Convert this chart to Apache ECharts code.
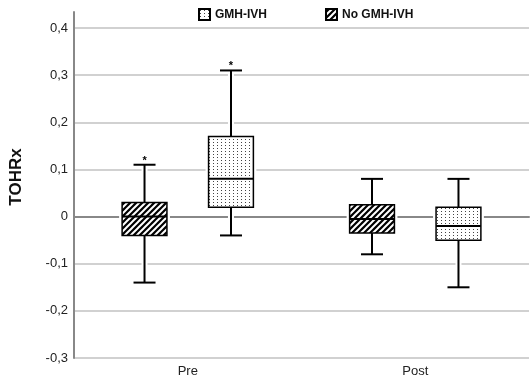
<!DOCTYPE html>
<html>
<head>
<meta charset="utf-8">
<script src="https://cdn.jsdelivr.net/npm/echarts@6/dist/echarts.min.js"></script>
<style>
  html, body { margin: 0; padding: 0; background: #fff; }
  #chart { width: 532px; height: 378px; }
</style>
</head>
<body>
<div id="chart"></div>
<script>
const categories = ['Pre', 'Post'];
// boxes: [min, Q1, median, Q3, max] per category
const gmhIvh = [[-0.04, 0.02, 0.08, 0.17, 0.31], [-0.15, -0.05, -0.02, 0.02, 0.08]];
const noGmhIvh = [[-0.14, -0.04, 0.0, 0.03, 0.11], [-0.08, -0.035, -0.005, 0.025, 0.08]];
// outliers: [category index, value]
const gmhIvhOutliers = [[0, 0.323]];
const noGmhIvhOutliers = [[0, 0.123]];

const fontFamily = 'Liberation Sans, Arial, sans-serif';

// fill patterns
function dotCanvas() {
  const c = document.createElement('canvas');
  c.width = 4; c.height = 3;
  const ctx = c.getContext('2d');
  ctx.fillStyle = '#fff';
  ctx.fillRect(0, 0, 4, 3);
  ctx.fillStyle = '#444';
  ctx.fillRect(1, 1, 1, 1);
  return c;
}
function hatchCanvas() {
  const s = 6;
  const c = document.createElement('canvas');
  c.width = s; c.height = s;
  const ctx = c.getContext('2d');
  ctx.fillStyle = '#000';
  ctx.fillRect(0, 0, s, s);
  ctx.strokeStyle = '#fff';
  ctx.lineWidth = 2;
  ctx.beginPath();
  ctx.moveTo(0, s); ctx.lineTo(s, 0);
  ctx.moveTo(-2, 2); ctx.lineTo(2, -2);
  ctx.moveTo(s - 2, s + 2); ctx.lineTo(s + 2, s - 2);
  ctx.stroke();
  return c;
}
const dotFill = { image: dotCanvas(), repeat: 'repeat' };
const hatchFill = { image: hatchCanvas(), repeat: 'repeat' };

function boxRenderer(side, fill) {
  return function (params, api) {
    const cat = api.value(0);
    const bw = api.size([1, 0])[0];
    const cx = api.coord([cat, 0])[0] + side * bw * 0.19;
    const half = bw * 0.197 / 2;
    const cap = 11;
    const y = [1, 2, 3, 4, 5].map(function (d) { return api.coord([cat, api.value(d)])[1]; });
    const halo = { stroke: '#fff', lineWidth: 6 };
    const ink = { stroke: '#000', lineWidth: 2 };
    function line(x1, y1, x2, y2, st) {
      return { type: 'line', shape: { x1: x1, y1: y1, x2: x2, y2: y2 }, style: st };
    }
    return {
      type: 'group',
      children: [
        line(cx, y[4], cx, y[0], halo),
        line(cx - cap, y[4], cx + cap, y[4], halo),
        line(cx - cap, y[0], cx + cap, y[0], halo),
        { type: 'rect', shape: { x: cx - half, y: y[3], width: half * 2, height: y[1] - y[3] },
          style: { fill: 'none', stroke: '#fff', lineWidth: 6 } },
        line(cx, y[4], cx, y[3], ink),
        line(cx, y[1], cx, y[0], ink),
        line(cx - cap, y[4], cx + cap, y[4], ink),
        line(cx - cap, y[0], cx + cap, y[0], ink),
        { type: 'rect', shape: { x: cx - half, y: y[3], width: half * 2, height: y[1] - y[3] },
          style: { fill: fill, stroke: '#000', lineWidth: 1.5 } },
        line(cx - half, y[2], cx + half, y[2], ink)
      ]
    };
  };
}

function outlierRenderer(side) {
  return function (params, api) {
    const cat = api.value(0);
    const bw = api.size([1, 0])[0];
    const p = api.coord([cat, api.value(1)]);
    return {
      type: 'text',
      x: p[0] + side * bw * 0.19,
      y: p[1] + 2,
      style: { text: '*', fill: '#000', font: 'bold 11px ' + fontFamily, align: 'center', verticalAlign: 'middle' }
    };
  };
}

const chart = echarts.init(document.getElementById('chart'));
chart.setOption({
  animation: false,
  backgroundColor: '#fff',
  legend: {
    data: ['GMH-IVH', 'No GMH-IVH'],
    left: 193,
    top: 3,
    icon: 'rect',
    itemWidth: 11,
    itemHeight: 11,
    itemGap: 58,
    textStyle: { fontFamily: fontFamily, fontSize: 12, fontWeight: 'bold', color: '#111' }
  },
  grid: { left: 72, right: 3, top: 12, bottom: 19 },
  xAxis: {
    type: 'category',
    data: categories,
    axisTick: { show: false },
    axisLine: { lineStyle: { color: '#888', width: 2 } },
    axisLabel: { fontFamily: fontFamily, fontSize: 13, color: '#222', margin: 7 }
  },
  yAxis: {
    type: 'value',
    min: -0.3,
    max: 0.434,
    interval: 0.1,
    name: 'TOHRx',
    nameLocation: 'middle',
    nameGap: 49,
    nameTextStyle: { fontFamily: fontFamily, fontSize: 17, fontWeight: 'bold', color: '#111', padding: [0, 0, 0, 16] },
    axisLine: { show: true, lineStyle: { color: '#888', width: 2 } },
    axisTick: { show: false },
    splitLine: { show: true, showMaxLine: false, lineStyle: { color: '#c2c2c2', width: 1.5 } },
    axisLabel: {
      showMaxLabel: false,
      fontFamily: fontFamily, fontSize: 13, color: '#222', margin: 6,
      formatter: function (v) { return Math.abs(v) < 1e-9 ? '0' : v.toFixed(1).replace('.', ','); }
    }
  },
  series: [
    {
      name: 'No GMH-IVH',
      type: 'custom',
      renderItem: boxRenderer(-1, hatchFill),
      itemStyle: { color: hatchFill, borderColor: '#000', borderWidth: 1 },
      encode: { x: 0, y: [1, 2, 3, 4, 5] },
      data: noGmhIvh.map(function (b, i) { return [i].concat(b); })
    },
    {
      name: 'GMH-IVH',
      type: 'custom',
      renderItem: boxRenderer(1, dotFill),
      itemStyle: { color: dotFill, borderColor: '#000', borderWidth: 1 },
      encode: { x: 0, y: [1, 2, 3, 4, 5] },
      data: gmhIvh.map(function (b, i) { return [i].concat(b); })
    },
    {
      name: 'No GMH-IVH',
      type: 'custom',
      renderItem: outlierRenderer(-1),
      itemStyle: { color: hatchFill },
      encode: { x: 0, y: 1 },
      data: noGmhIvhOutliers
    },
    {
      name: 'GMH-IVH',
      type: 'custom',
      renderItem: outlierRenderer(1),
      itemStyle: { color: dotFill },
      encode: { x: 0, y: 1 },
      data: gmhIvhOutliers
    }
  ]
});
</script>
</body>
</html>
